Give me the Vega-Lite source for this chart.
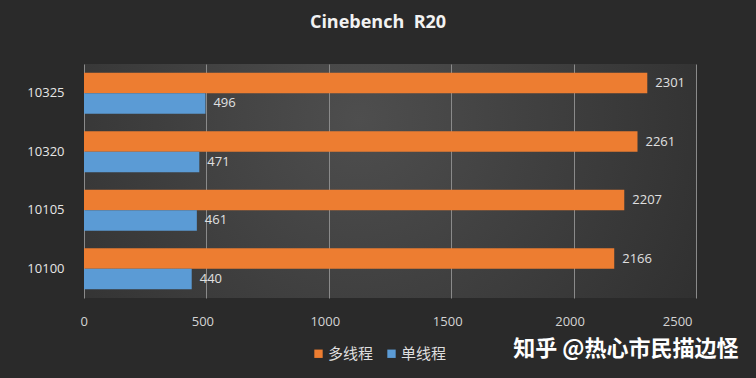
{
  "$schema": "https://vega.github.io/schema/vega-lite/v6.json",
  "width": 612,
  "height": 234,
  "autosize": "none",
  "padding": {"left": 84, "top": 64, "right": 60, "bottom": 80},
  "background": "#2a2a2a",
  "title": {
    "text": "Cinebench\u00a0\u00a0R20",
    "font": "Open Sans",
    "fontSize": 18,
    "fontWeight": "bold",
    "color": "#f2f2f2",
    "anchor": "middle",
    "dx": -12,
    "baseline": "alphabetic",
    "offset": 18,
    "letterSpacing": 0.5
  },
  "config": {
    "view": {
      "stroke": null,
      "fill": {
        "gradient": "radial",
        "x1": 0.45, "y1": 0.4, "r1": 0,
        "x2": 0.45, "y2": 0.4, "r2": 0.75,
        "stops": [
          {"offset": 0, "color": "#4e4e4e"},
          {"offset": 1, "color": "#2a2a2a"}
        ]
      }
    },
    "font": "Open Sans"
  },
  "data": {
    "values": [
      {"cpu": "10325", "series": "多线程", "score": 2301},
      {"cpu": "10325", "series": "单线程", "score": 496},
      {"cpu": "10320", "series": "多线程", "score": 2261},
      {"cpu": "10320", "series": "单线程", "score": 471},
      {"cpu": "10105", "series": "多线程", "score": 2207},
      {"cpu": "10105", "series": "单线程", "score": 461},
      {"cpu": "10100", "series": "多线程", "score": 2166},
      {"cpu": "10100", "series": "单线程", "score": 440}
    ]
  },
  "encoding": {
    "y": {
      "field": "cpu",
      "type": "nominal",
      "sort": ["10325", "10320", "10105", "10100"],
      "scale": {"paddingInner": 0.3, "paddingOuter": 0.15},
      "axis": {
        "title": null,
        "domain": false,
        "ticks": false,
        "labelColor": "#e6e6e6",
        "labelFontSize": 13,
        "labelPadding": 20,
        "labelFont": "Open Sans"
      }
    },
    "yOffset": {
      "field": "series",
      "type": "nominal",
      "sort": ["多线程", "单线程"],
      "scale": {"paddingInner": 0, "paddingOuter": 0}
    },
    "x": {
      "field": "score",
      "type": "quantitative",
      "scale": {"domain": [0, 2500], "nice": false},
      "axis": {
        "values": [0, 500, 1000, 1500, 2000, 2500],
        "format": "d",
        "grid": true,
        "gridColor": "#8a8a8a",
        "gridWidth": 1,
        "domain": false,
        "ticks": false,
        "labelColor": "#d4d4d4",
        "labelFontSize": 13,
        "labelPadding": 17,
        "labelOffset": -4,
        "labelFont": "Open Sans",
        "title": "知乎 @热心市民描边怪",
        "titleFont": "Noto Sans CJK SC",
        "titleFontSize": 22,
        "titleFontWeight": "bold",
        "titleColor": "#ffffff",
        "titleAlign": "right",
        "titleAnchor": "end",
        "titleBaseline": "middle",
        "titleX": 654,
        "titleY": 50
      }
    }
  },
  "layer": [
    {
      "mark": {"type": "bar", "cornerRadius": 0},
      "encoding": {
        "color": {
          "field": "series",
          "type": "nominal",
          "sort": ["多线程", "单线程"],
          "scale": {"domain": ["多线程", "单线程"], "range": ["#ED7D31", "#5B9BD5"]},
          "legend": {
            "title": null,
            "orient": "none",
            "legendX": 227,
            "legendY": 282,
            "direction": "horizontal",
            "symbolType": "square",
            "symbolSize": 70,
            "symbolStrokeWidth": 0,
            "labelColor": "#dedede",
            "labelFontSize": 15,
            "labelFont": "Noto Sans CJK SC",
            "columnPadding": 10,
            "labelOffset": 2
          }
        }
      }
    },
    {
      "mark": {"type": "text", "align": "left", "baseline": "middle", "dx": 8, "color": "#e0e0e0", "fontSize": 13, "font": "Open Sans"},
      "encoding": {"text": {"field": "score", "type": "quantitative", "format": "d"}}
    }
  ]
}
